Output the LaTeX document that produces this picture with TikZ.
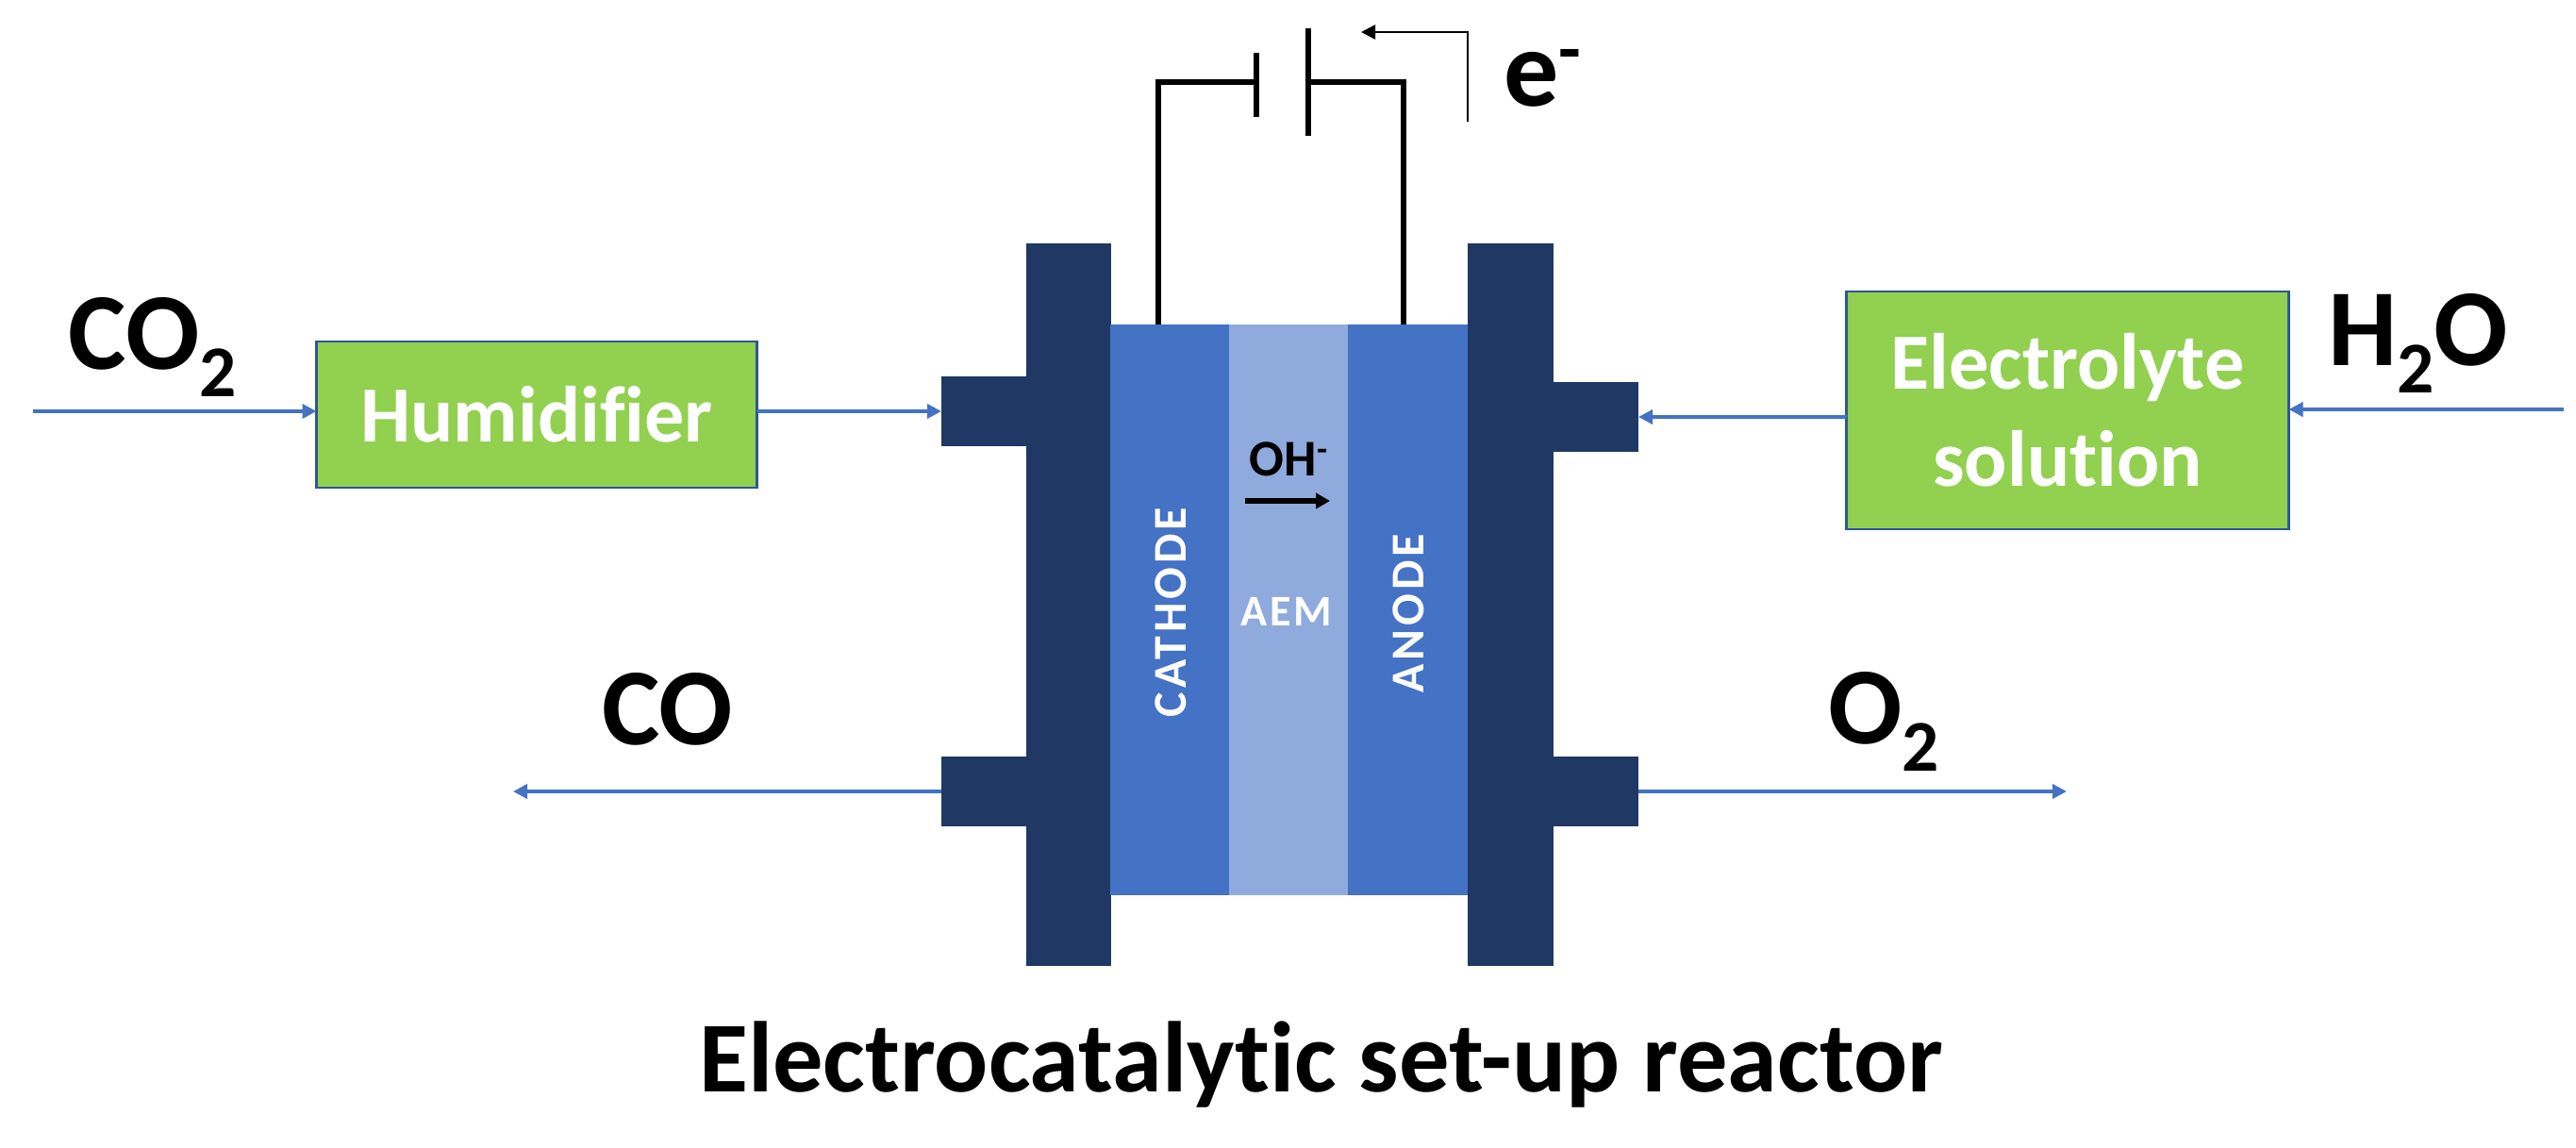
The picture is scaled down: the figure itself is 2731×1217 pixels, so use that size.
\documentclass[tikz,border=0pt]{standalone}
\usepackage{fontspec}
\setmainfont{Carlito}[Ligatures=CommonOff]
\usepackage{tikz}
\usetikzlibrary{arrows.meta,positioning,calc}
\definecolor{plate}{HTML}{203864}
\definecolor{elec}{HTML}{4472C4}
\definecolor{mem}{HTML}{8FAADC}
\definecolor{grn}{HTML}{92D050}
\definecolor{edge}{HTML}{2F5597}
\tikzset{
  >={Triangle[length=1.5mm,width=1.5mm]},
  layer/.style={draw=none,anchor=north west,inner sep=0pt,outer sep=0pt},
  pbar/.style={layer,fill=plate},
  gbox/.style={draw=edge,fill=grn,line width=0.8pt,inner sep=0pt,outer sep=0pt,align=center,text=white,font=\fontsize{24}{29.2}\selectfont\bfseries},
  lab/.style={inner sep=0pt,outer sep=0pt,anchor=base west,font=\fontsize{33}{40}\selectfont\bfseries},
  slab/.style={font=\fontsize{14.2}{17}\selectfont\bfseries\addfontfeature{LetterSpace=8},white,inner sep=0pt},
  flow/.style={->,draw=elec,line width=1.05pt},
  wire/.style={draw=black,line width=1.9pt},
}
\newcommand{\subtwo}{\raisebox{-2.9mm}{\fontsize{22}{26}\selectfont 2}}
\begin{document}
\begin{tikzpicture}[x=0.1mm,y=-0.1mm]
\useasboundingbox (0,0) rectangle (2731,1217);
% end plates with their stubs
\node[pbar,minimum width=9mm,minimum height=76.6mm] (lplate) at (1088,258) {};
\node[pbar,minimum width=9.1mm,minimum height=76.6mm] (rplate) at (1556,258) {};
\node[pbar,minimum width=9mm,minimum height=7.4mm] (lin) at (998,399) {};
\node[pbar,minimum width=9mm,minimum height=7.4mm] (lout) at (998,802) {};
\node[pbar,minimum width=9mm,minimum height=7.4mm] (rin) at (1647,405) {};
\node[pbar,minimum width=9mm,minimum height=7.4mm] (rout) at (1647,802) {};
% cell layers
\node[layer,fill=elec,minimum width=12.6mm,minimum height=60.5mm] (cath) at (1177,344) {};
\node[layer,fill=mem,minimum width=12.6mm,minimum height=60.5mm] (aem) at (1303,344) {};
\node[layer,fill=elec,minimum width=12.7mm,minimum height=60.5mm] (anod) at (1429,344) {};
\node[slab,rotate=90] (cathl) at (1241.5,649) {CATHODE};
\node[slab,font=\fontsize{13.2}{16}\selectfont\bfseries\addfontfeature{LetterSpace=6}] (aeml) at (1364,648) {AEM};
\node[slab,rotate=90] (anodl) at (1493,650.5) {ANODE};
% battery
\coordinate (lw) at (1228,344);
\coordinate (rw) at (1488,344);
\coordinate (p1) at (1332,87);
\coordinate (p2) at (1387,87);
\draw[wire] (lw) |- (p1);
\draw[wire] (rw) |- (p2);
\draw[wire] (1332,56) -- (1332,124);
\draw[wire] (1387,30) -- (1387,144);
\coordinate (es) at (1556,129);
\coordinate (ee) at (1443,34);
\draw[->,line width=0.7pt] (es) |- (ee);
\node[lab] (el) at (1594,112) {e\raisebox{3.4mm}{\fontsize{22}{26}\selectfont -}};
% ion
\node[inner sep=0pt,anchor=base,font=\fontsize{15.5}{18}\selectfont\bfseries] (oh) at (1366,504) {OH\raisebox{1.6mm}{\fontsize{10.3}{12}\selectfont -}};
\coordinate (o1) at (1320,531);
\coordinate (o2) at (1410,531);
\draw[->,line width=1.5pt,>={Triangle[length=1.5mm,width=1.6mm]}] (o1) -- (o2);
% boxes
\node[gbox,minimum width=46.7mm,minimum height=15.5mm] (hum) at (569,439.5) {Humidifier};
\node[gbox,minimum width=46.9mm,minimum height=25.2mm] (sol) at (2192,435) {Electrolyte\\solution};
% species
\node[lab] (co2) at (73,391) {CO\subtwo};
\node[lab] (co) at (638,789) {CO};
\node[lab] (o2) at (1938,788) {O\subtwo};
\node[lab] (h2o) at (2468,387) {H\subtwo O};
% flows
\coordinate (c1) at (35,436);
\coordinate (c2) at (2718,434);
\coordinate (c3) at (544,839);
\coordinate (c4) at (2191,839);
\draw[flow] (c1) -- (c1-|hum.west);
\draw[flow] (hum.east|-lin.west) -- (lin.west);
\draw[flow] (sol.west|-rin.east) -- (rin.east);
\draw[flow] (c2) -- (c2-|sol.east);
\draw[flow] (lout.west) -- (c3);
\draw[flow] (rout.east) -- (c4);
\node[font=\fontsize{30.3}{36}\selectfont\bfseries,inner sep=0pt,anchor=base] (title) at (1400.5,1157) {Electrocatalytic set-up reactor};
\end{tikzpicture}
\end{document}
